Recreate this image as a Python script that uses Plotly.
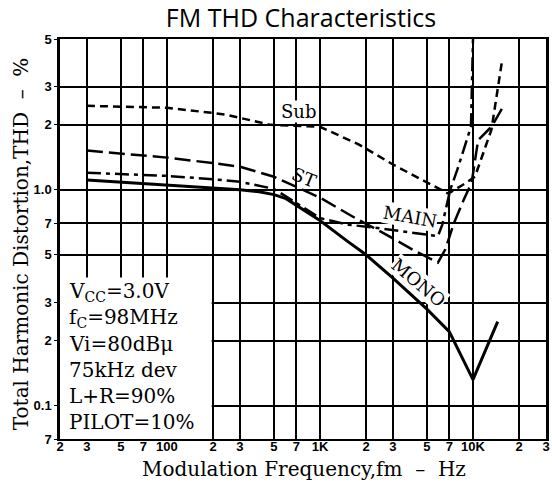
import plotly.graph_objects as go

# Modulation frequency (Hz) and THD (%) along each curve
mono_f = [30, 100, 200, 300, 400, 500, 600, 800, 1000, 1500, 2000, 3000, 5000, 7000, 8500, 10000, 14500]
mono_thd = [1.11, 1.055, 1.02, 1.0, 0.98, 0.95, 0.91, 0.80, 0.72, 0.58, 0.50, 0.39, 0.28, 0.22, 0.165, 0.132, 0.245]

st_f = [30, 100, 200, 300, 500, 1000, 1700, 2600, 4000, 5900, 6600, 7500, 8700, 9800, 10800, 13200, 15600]
st_thd = [1.52, 1.41, 1.33, 1.28, 1.15, 0.92, 0.74, 0.63, 0.53, 0.46, 0.53, 0.70, 0.90, 1.08, 1.70, 1.96, 2.4]

main_f = [30, 100, 200, 300, 500, 1000, 1500, 2200, 5900, 6300, 7100, 7900, 9700, 9850, 10000]
main_thd = [1.20, 1.16, 1.12, 1.09, 1.01, 0.74, 0.69, 0.67, 0.61, 0.69, 1.0, 1.24, 1.96, 2.9, 5.0]

sub_f = [30, 100, 200, 250, 475, 1000, 1800, 3000, 4900, 6900, 8500, 10300, 13200, 14500, 15400]
sub_thd = [2.45, 2.40, 2.27, 2.22, 2.0, 1.96, 1.62, 1.31, 1.09, 0.96, 1.05, 1.15, 1.9, 2.9, 3.87]

x_tickvals = [20, 30, 50, 70, 100, 200, 300, 500, 700, 1000, 2000, 3000, 5000, 7000, 10000, 20000, 30000]
x_ticktext = ["2", "3", "5", "7", "100", "2", "3", "5", "7", "1K", "2", "3", "5", "7", "10K", "2", "3"]
y_tickvals = [5, 3, 2, 1, 0.7, 0.5, 0.3, 0.2, 0.1, 0.07]
y_ticktext = ["5", "3", "2", "1.0", "7", "5", "3", "2", "0.1", "7"]

conditions = ["V<sub>CC</sub>=3.0V", "f<sub>C</sub>=98MHz", "Vi=80dBμ", "75kHz dev", "L+R=90%", "PILOT=10%"]

SERIF = "DejaVu Serif"

fig = go.Figure()

fig.add_trace(go.Scatter(x=sub_f, y=sub_thd, mode="lines", name="Sub",
                         line=dict(color="black", width=2.5, dash="8px,5px")))
fig.add_trace(go.Scatter(x=st_f, y=st_thd, mode="lines", name="ST",
                         line=dict(color="black", width=2.5, dash="16px,6px")))
fig.add_trace(go.Scatter(x=main_f, y=main_thd, mode="lines", name="MAIN",
                         line=dict(color="black", width=2.5, dash="14px,5px,4px,5px")))
fig.add_trace(go.Scatter(x=mono_f, y=mono_thd, mode="lines", name="MONO",
                         line=dict(color="black", width=3)))

# white panel holding the measurement conditions
fig.add_shape(type="rect", xref="x", yref="y", x0=20, x1=196, y0=0.07, y1=0.392,
              fillcolor="white", line=dict(width=0), layer="between")

line_y = [292, 318, 344, 370, 396, 422]
for txt, py in zip(conditions, line_y):
    fig.add_annotation(text=txt, xref="paper", yref="paper",
                       x=7 / 489, y=(439 - py) / 400, xanchor="left", yanchor="middle",
                       showarrow=False, font=dict(family=SERIF, size=20, color="black"))

# curve labels: text, centre (px), angle, white backing
curve_labels = [
    ("Sub", 300, 111, 0, "white"),
    ("ST", 306, 177, 22, "rgba(0,0,0,0)"),
    ("MAIN", 412, 217, 10, "white"),
    ("MONO", 421, 282, 40, "white"),
]
for txt, px, py, ang, bg in curve_labels:
    fig.add_annotation(text=txt, xref="paper", yref="paper",
                       x=(px - 60) / 489, y=(439 - py) / 400, xanchor="center", yanchor="middle",
                       textangle=ang, showarrow=False, bgcolor=bg, borderpad=0,
                       font=dict(family=SERIF, size=18, color="black"))

# axis titles
fig.add_annotation(text="Modulation Frequency,fm  –  Hz", xref="paper", yref="paper",
                   x=(306 - 60) / 489, y=(439 - 469) / 400, xanchor="center", yanchor="middle",
                   showarrow=False, font=dict(family=SERIF, size=20, color="black"))
fig.add_annotation(text="Total Harmonic Distortion,THD  –  %", xref="paper", yref="paper",
                   x=(21 - 60) / 489, y=(439 - 244) / 400, xanchor="center", yanchor="middle",
                   textangle=-90, showarrow=False, font=dict(family=SERIF, size=20, color="black"))

fig.update_layout(
    width=552, height=487,
    margin=dict(l=60, r=3, t=39, b=48),
    paper_bgcolor="white", plot_bgcolor="white",
    showlegend=False,
    title=dict(text="FM THD Characteristics", x=301 / 552, xanchor="center",
               y=1 - 18 / 487, yanchor="middle", yref="container",
               font=dict(family="Open Sans", size=25, color="black")),
)
fig.update_xaxes(type="log", range=[1.30103, 4.47712], tickvals=x_tickvals, ticktext=x_ticktext,
                 showgrid=True, gridcolor="black", gridwidth=1.5,
                 showline=True, linecolor="black", linewidth=2, mirror=True,
                 ticks="", ticklabelstandoff=-6,
                 tickfont=dict(family="Liberation Sans", size=13, color="black", weight="bold"),
                 zeroline=False)
fig.update_yaxes(type="log", range=[-1.154902, 0.69897], tickvals=y_tickvals, ticktext=y_ticktext,
                 showgrid=True, gridcolor="black", gridwidth=1.5,
                 showline=True, linecolor="black", linewidth=2.5, mirror=True,
                 ticks="outside", ticklen=3, tickcolor="black",
                 tickfont=dict(family="Liberation Sans", size=13, color="black", weight="bold"),
                 zeroline=False)

fig.write_html("out.html")
